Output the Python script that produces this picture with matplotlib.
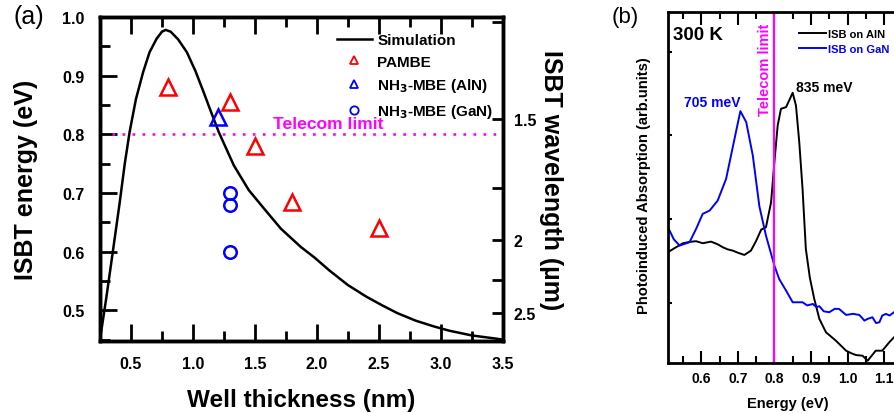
import matplotlib
matplotlib.use("Agg")
import matplotlib.pyplot as plt
from matplotlib.lines import Line2D
from matplotlib.ticker import MultipleLocator, FixedLocator, NullFormatter
import numpy as np

plt.rcParams['font.family'] = ['Liberation Sans', 'DejaVu Sans']
plt.rcParams['font.weight'] = 'bold'
plt.rcParams['axes.labelweight'] = 'bold'
plt.rcParams['mathtext.default'] = 'bf'

# ---- panel (a) data ----
sim_thickness = [0.25, 0.30, 0.353, 0.408, 0.45, 0.489, 0.54, 0.598, 0.65, 0.707, 0.75, 0.78,
                 0.82, 0.88, 0.951, 1.02, 1.086, 1.15, 1.208, 1.27, 1.33, 1.45, 1.575, 1.71,
                 1.87, 1.98, 2.1, 2.25, 2.4, 2.53, 2.65, 2.8, 2.95, 3.07, 3.25, 3.5]
sim_energy = [0.45, 0.52, 0.599, 0.682, 0.75, 0.804, 0.86, 0.906, 0.94, 0.963, 0.975, 0.978,
              0.975, 0.962, 0.94, 0.908, 0.872, 0.836, 0.804, 0.775, 0.747, 0.705, 0.673, 0.639,
              0.608, 0.59, 0.568, 0.543, 0.523, 0.508, 0.495, 0.482, 0.472, 0.465, 0.457, 0.45]

pambe_t = [0.8, 1.3, 1.5, 1.8, 2.5]
pambe_e = [0.88, 0.855, 0.78, 0.685, 0.64]
aln_t = [1.2]
aln_e = [0.83]
gan_t = [1.3, 1.3, 1.3]
gan_e = [0.70, 0.68, 0.60]

telecom_e = 0.8
wl_major = [1.5, 2, 2.5]
wl_minor = [1.25, 1.75, 2.25]
wl_labels = ['1.5', '2', '2.5']

# ---- panel (b) data ----
e_aln = [0.509, 0.527, 0.550, 0.570, 0.586, 0.604, 0.627, 0.645, 0.659, 0.672, 0.686, 0.700,
         0.718, 0.736, 0.750, 0.764, 0.777, 0.791, 0.800, 0.809, 0.818, 0.832, 0.850, 0.859,
         0.868, 0.877, 0.886, 0.897, 0.909, 0.923, 0.941, 0.968, 0.996, 1.010, 1.023, 1.041,
         1.055, 1.066, 1.077, 1.095, 1.114, 1.127]
abs_aln = [1.606, 1.654, 1.713, 1.73, 1.737, 1.713, 1.732, 1.70, 1.665, 1.64, 1.625, 1.60,
           1.573, 1.625, 1.74, 1.876, 1.904, 2.203, 2.681, 3.118, 3.318, 3.338, 3.509, 3.357,
           2.92, 2.362, 1.645, 1.30, 1.048, 0.809, 0.65, 0.55, 0.43, 0.40, 0.378, 0.37,
           0.31, 0.37, 0.43, 0.43, 0.53, 0.59]

e_gan = [0.509, 0.525, 0.541, 0.568, 0.586, 0.604, 0.623, 0.645, 0.668, 0.691, 0.707, 0.723,
         0.741, 0.759, 0.777, 0.800, 0.813, 0.832, 0.850, 0.877, 0.890, 0.905, 0.915, 0.923,
         0.935, 0.950, 0.965, 0.977, 0.996, 1.015, 1.032, 1.040, 1.046, 1.055, 1.068, 1.078,
         1.087, 1.095, 1.105, 1.115, 1.127]
abs_gan = [1.904, 1.76, 1.685, 1.725, 1.884, 2.063, 2.103, 2.222, 2.481, 2.959, 3.29, 3.159,
           2.76, 2.153, 1.804, 1.446, 1.287, 1.147, 1.008, 1.008, 0.97, 0.988, 0.95, 0.961,
           0.90, 0.889, 0.93, 0.928, 0.857, 0.87, 0.857, 0.82, 0.789, 0.81, 0.829, 0.76,
           0.769, 0.85, 0.869, 0.85, 0.889]

fig = plt.figure(figsize=(8.95, 4.14), dpi=100)

# ================= panel (a) =================
ax = fig.add_axes([100 / 895, 1 - 341.7 / 414, 402.7 / 895, 323.7 / 414])
ax.plot(sim_thickness, sim_energy, color='black', lw=1.8)
ax.plot(pambe_t, pambe_e, ls='none', marker='^', ms=11, mfc='none', mec='red', mew=1.8)
ax.plot(aln_t, aln_e, ls='none', marker='^', ms=11, mfc='none', mec='blue', mew=1.8)
ax.plot(gan_t, gan_e, ls='none', marker='o', ms=9, mfc='none', mec='blue', mew=1.8)
ax.hlines(telecom_e, 0.35, 3.45, colors='#ff00ff', linestyles=(0, (1, 2.8)), lw=1.9)
ax.text(1.65, 0.818, 'Telecom limit', color='#ff00ff', fontsize=12.6, ha='left', va='center')

ax.set_xlim(0.25, 3.5)
ax.set_ylim(0.448, 1.0)
ax.xaxis.set_major_locator(MultipleLocator(0.5))
ax.xaxis.set_minor_locator(MultipleLocator(0.25))
ax.yaxis.set_major_locator(MultipleLocator(0.1))
ax.yaxis.set_minor_locator(MultipleLocator(0.05))
ax.xaxis.set_major_formatter(plt.FormatStrFormatter('%.1f'))
ax.yaxis.set_major_formatter(plt.FormatStrFormatter('%.1f'))
ax.tick_params(which='both', direction='in', top=True, right=False, width=2)
ax.tick_params(which='major', length=12, labelsize=11.5, pad=11)
ax.tick_params(which='minor', length=7)
for s in ax.spines.values():
    s.set_linewidth(2.5)
ax.set_xlabel('Well thickness (nm)', fontsize=17.5, labelpad=12)
ax.set_ylabel('ISBT energy (eV)', fontsize=18)
ax.yaxis.set_label_coords(-0.155, 0.5)

ax2 = ax.twinx()
ax2.set_ylim(ax.get_ylim())
ax2.yaxis.set_major_locator(FixedLocator([1.24 / w for w in wl_major]))
ax2.yaxis.set_minor_locator(FixedLocator([1.24 / w for w in wl_minor]))
ax2.set_yticklabels(wl_labels)
ax2.tick_params(which='both', direction='in', width=2)
ax2.tick_params(which='major', length=8, labelsize=11.5, pad=8)
ax2.tick_params(which='minor', length=8)
for s in ax2.spines.values():
    s.set_linewidth(2.5)
ax2.set_ylabel('ISBT wavelength (\u00b5m)', fontsize=18, rotation=270, va='bottom', labelpad=2)

handles = [
    Line2D([], [], color='black', lw=1.8),
    Line2D([], [], ls='none', marker='^', ms=6, mfc='none', mec='red', mew=1.3),
    Line2D([], [], ls='none', marker='^', ms=6, mfc='none', mec='blue', mew=1.3),
    Line2D([], [], ls='none', marker='o', ms=6, mfc='none', mec='blue', mew=1.3),
]
labels = ['Simulation', 'PAMBE', r'NH$_3$-MBE (AlN)', r'NH$_3$-MBE (GaN)']
ax.legend(handles, labels, loc='upper left', bbox_to_anchor=(0.588, 0.95), frameon=False,
          fontsize=11, handlelength=2.3, handletextpad=0.35, labelspacing=0.5,
          borderpad=0, borderaxespad=0)
fig.text(14 / 895, 1 - 17 / 414, '(a)', fontsize=18, fontweight='normal', ha='left', va='center')

# ================= panel (b) =================
bx = fig.add_axes([668.3 / 895, 1 - 364 / 414, 252.4 / 895, 350.7 / 414])
bx.plot(e_aln, abs_aln, color='black', lw=1.4, label='ISB on AlN')
bx.plot(e_gan, abs_gan, color='blue', lw=1.4, label='ISB on GaN')
bx.axvline(telecom_e, color='#ff00ff', lw=1.6)
bx.set_xlim(0.51, 1.2)
bx.set_ylim(0.283, 4.47)
bx.xaxis.set_major_locator(MultipleLocator(0.1))
bx.xaxis.set_minor_locator(MultipleLocator(0.05))
bx.xaxis.set_major_formatter(plt.FormatStrFormatter('%.1f'))
bx.yaxis.set_major_locator(MultipleLocator(1))
bx.yaxis.set_major_formatter(NullFormatter())
bx.tick_params(which='both', direction='in', top=True, width=1.5)
bx.tick_params(axis='x', which='major', length=9, labelsize=10, pad=6)
bx.tick_params(axis='x', which='minor', length=5)
bx.tick_params(axis='y', which='major', length=3)
for s in bx.spines.values():
    s.set_linewidth(2)
bx.set_xlabel('Energy (eV)', fontsize=10.5)
bx.xaxis.set_label_coords((788 - 668.3) / 252.4, -0.095)
bx.set_ylabel('Photoinduced Absorption (arb.units)', fontsize=10.6)
bx.yaxis.set_label_coords(-0.07, 0.51)

bx.text(0.522, 4.20, '300 K', fontsize=13.5, ha='left', va='center')
bx.text(0.552, 3.40, '705 meV', fontsize=10, color='blue', ha='left', va='center')
bx.text(0.860, 3.58, '835 meV', fontsize=10, color='black', ha='left', va='center')
bx.text(0.775, 3.80, 'Telecom limit', fontsize=10.5, color='#ff00ff', rotation=90,
        ha='center', va='center')
leg = bx.legend(loc='upper left', bbox_to_anchor=(0.519, 0.952), frameon=False, fontsize=8,
                handlelength=2.4, handletextpad=0.2, labelspacing=0.4, borderpad=0,
                borderaxespad=0)
for t, c in zip(leg.get_texts(), ['black', 'blue']):
    t.set_color(c)
fig.text(612 / 895, 1 - 17 / 414, '(b)', fontsize=16, fontweight='normal', ha='left', va='center')

fig.savefig('out.png', dpi=100)
